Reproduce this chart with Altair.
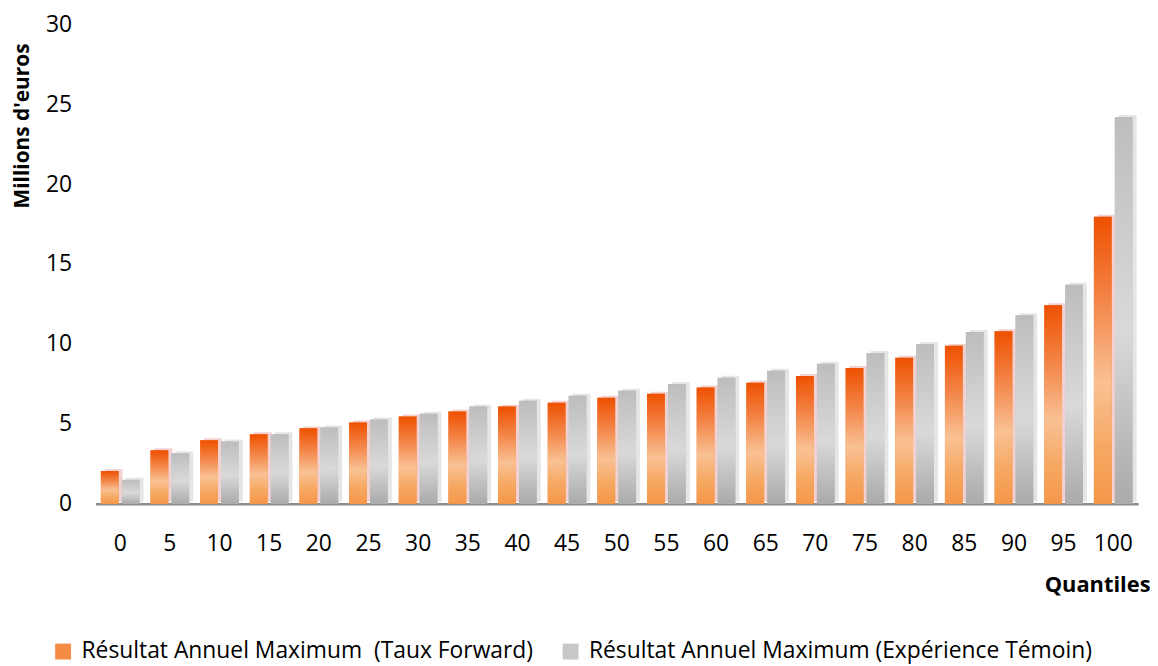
import altair as alt
import pandas as pd

quantiles = [0, 5, 10, 15, 20, 25, 30, 35, 40, 45, 50, 55, 60, 65, 70, 75, 80, 85, 90, 95, 100]
taux_forward = [2.05, 3.35, 3.98, 4.35, 4.72, 5.08, 5.46, 5.77, 6.08, 6.32, 6.63, 6.89, 7.27, 7.58, 8.0, 8.5, 9.13, 9.88, 10.8, 12.42, 17.95]
experience_temoin = [1.5, 3.17, 3.9, 4.35, 4.78, 5.27, 5.64, 6.08, 6.45, 6.76, 7.08, 7.5, 7.89, 8.32, 8.76, 9.44, 10.0, 10.75, 11.8, 13.7, 24.2]

s1 = "Résultat Annuel Maximum\u00a0 (Taux Forward)"
s2 = "Résultat Annuel Maximum (Expérience Témoin)"
series_names = [s1, s2]

rows = []
for q, a, b in zip(quantiles, taux_forward, experience_temoin):
    rows.append({"q": str(q), "serie": s1, "v": a})
    rows.append({"q": str(q), "serie": s2, "v": b})
df = pd.DataFrame(rows)

FONT = "Open Sans"

orange_grad = alt.LinearGradient(
    gradient="linear", x1=0, y1=0, x2=0, y2=1,
    stops=[
        alt.GradientStop(color="#EE5000", offset=0),
        alt.GradientStop(color="#F3874A", offset=0.3),
        alt.GradientStop(color="#F9C194", offset=0.58),
        alt.GradientStop(color="#F6A862", offset=0.8),
        alt.GradientStop(color="#F5974A", offset=1),
    ],
)
gray_grad = alt.LinearGradient(
    gradient="linear", x1=0, y1=0, x2=0, y2=1,
    stops=[
        alt.GradientStop(color="#BDBDBD", offset=0),
        alt.GradientStop(color="#D9D9D9", offset=0.55),
        alt.GradientStop(color="#AAAAAA", offset=1),
    ],
)

x_enc = alt.X(
    "q:N",
    sort=[str(q) for q in quantiles],
    scale=alt.Scale(paddingInner=0.22, paddingOuter=0.11),
    axis=alt.Axis(
        title="Quantiles", labelAngle=0, labelFontSize=23, labelFont=FONT,
        labelColor="#000000", labelPadding=29, ticks=False,
        domainColor="#8C8C8C", domainWidth=2.5,
        titleFont=FONT, titleFontSize=22, titleFontWeight="bold", titleColor="#000000",
        titleAnchor="end", titleAlign="right", titleBaseline="middle",
        titleX=1062, titleY=81,
    ),
)
y_enc = alt.Y(
    "v:Q",
    scale=alt.Scale(domain=[0, 30]),
    axis=alt.Axis(
        title="Millions d'euros", values=[0, 5, 10, 15, 20, 25, 30],
        labelFontSize=23, labelFont=FONT, labelColor="#000000", labelPadding=24,
        ticks=False, domain=False, grid=False,
        titleFont=FONT, titleFontSize=21, titleFontWeight="bold", titleColor="#000000",
        titleAngle=-90, titleAlign="center", titleBaseline="middle",
        titleX=-73, titleY=102,
    ),
)
xoff = alt.XOffset("serie:N", sort=series_names,
                   scale=alt.Scale(domain=series_names, paddingInner=0.15, paddingOuter=0))
xoff_shadow = alt.XOffset("serie:N", sort=series_names,
                          scale=alt.Scale(domain=series_names, paddingInner=0.15, paddingOuter=0,
                                          range=[4, 43]))

shadow = alt.Chart(df).mark_bar(yOffset=-2, opacity=0.4).encode(
    x=x_enc, y=y_enc, xOffset=xoff_shadow,
    fill=alt.Fill("serie:N", scale=alt.Scale(domain=series_names, range=["#E08C8C", "#BEBEBE"]), legend=None),
)

base_bars = alt.Chart(df).mark_bar().encode(
    x=x_enc, y=y_enc, xOffset=xoff,
    color=alt.Color(
        "serie:N",
        scale=alt.Scale(domain=series_names, range=["#F58C45", "#C8C8C8"]),
        legend=alt.Legend(
            title=None, orient="none", direction="horizontal",
            legendX=-44, legendY=620,
            labelFont=FONT, labelFontSize=23, labelColor="#000000",
            symbolType="square", symbolSize=256, symbolStrokeWidth=0,
            labelOffset=7, columnPadding=26, labelLimit=700,
        ),
    ),
)

orange_bars = alt.Chart(df).transform_filter(
    alt.datum.serie == s1
).mark_bar(color=orange_grad).encode(x=x_enc, y=y_enc, xOffset=xoff)

gray_bars = alt.Chart(df).transform_filter(
    alt.datum.serie == s2
).mark_bar(color=gray_grad).encode(x=x_enc, y=y_enc, xOffset=xoff)

bars = alt.layer(base_bars, orange_bars, gray_bars)

chart = alt.layer(shadow, bars).properties(
    width=1050, height=483,
    autosize=alt.AutoSizeParams(type="none"),
    padding={"left": 88, "top": 14, "right": 12, "bottom": 160},
    background="white",
).resolve_scale(fill="independent", color="independent", xOffset="independent").configure_view(stroke=None)

chart.save("out.html", embed_options={"renderer": "svg", "actions": False})
